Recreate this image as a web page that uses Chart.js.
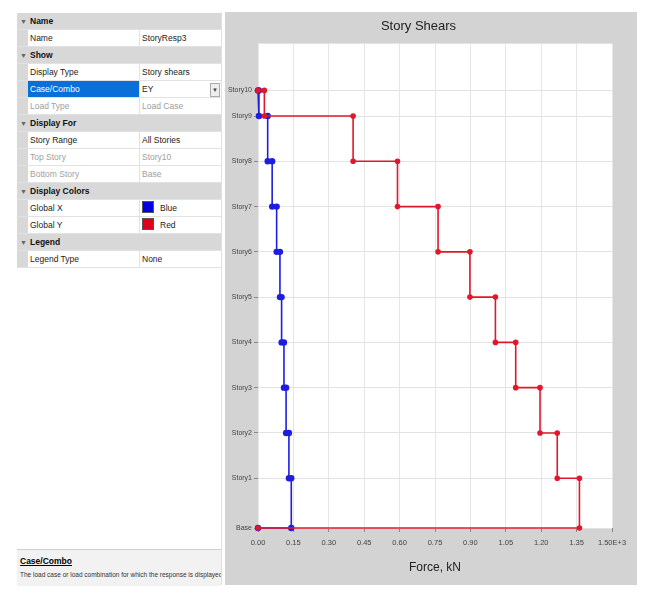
<!DOCTYPE html>
<html>
<head>
<meta charset="utf-8">
<script src="https://cdn.jsdelivr.net/npm/chart.js@4"></script>
<style>
  body { margin: 0; width: 645px; height: 594px; background: #fff; position: relative; overflow: hidden;
         font-family: "Liberation Sans Narrow", "Liberation Sans", Arial, sans-serif; }
  #grid { position: absolute; left: 17px; top: 13px; width: 204px; }
  .row { height: 17px; line-height: 17px; font-size: 8.5px; position: relative; border-bottom: 1px solid #e2e2e2; box-sizing: border-box; }
  .cat { background: #d8d8d8; font-weight: bold; color: #111; }
  .cat .a { position: absolute; left: 3px; font-size: 7px; color: #666; font-weight: normal; }
  .cat .t { position: absolute; left: 13px; }
  .prop { background: #fff; }
  .prop .g { position: absolute; left: 0; top: 0; width: 11px; height: 100%; background: #d8d8d8; }
  .prop .n { position: absolute; left: 11px; top: 0; width: 112px; height: 100%; padding-left: 2px; box-sizing: border-box; border-right: 1px solid #e2e2e2; color: #222; }
  .prop .v { position: absolute; left: 124px; padding-left: 1px; color: #222; }
  .dim .n, .dim .v { color: #a0a0a0; }
  .sel .n { background: #0a6fd8; color: #fff; }
  .sw { display: inline-block; width: 10px; height: 10px; vertical-align: -2px; margin-right: 6px; border: 1px solid #555; }
  .dd { position: absolute; right: 1px; top: 2px; width: 8px; height: 12px; border: 1px solid #aaa; background: #eee; font-size: 6px; line-height: 12px; text-align: center; color: #444; }
  #desc { position: absolute; left: 17px; top: 549px; width: 204px; height: 36px; background: #f2f2f2; border-top: 1px solid #cfcfcf; overflow: hidden; }
  #desc b { position: absolute; left: 3px; top: 6px; font-size: 8.5px; text-decoration: underline; }
  #desc span { position: absolute; left: 3px; top: 21px; font-size: 6.5px; white-space: nowrap; color: #333; }
  #gridEdge { position: absolute; left: 221px; top: 12px; width: 1px; height: 573px; background: #e0e0e0; }
  #panel { position: absolute; left: 225px; top: 12px; width: 412px; height: 573px; background: #d3d3d3; }
</style>
</head>
<body>
<div id="grid">
  <div class="row cat"><span class="a">&#9660;</span><span class="t">Name</span></div>
  <div class="row prop"><div class="g"></div><div class="n">Name</div><div class="v">StoryResp3</div></div>
  <div class="row cat"><span class="a">&#9660;</span><span class="t">Show</span></div>
  <div class="row prop"><div class="g"></div><div class="n">Display Type</div><div class="v">Story shears</div></div>
  <div class="row prop sel"><div class="g"></div><div class="n">Case/Combo</div><div class="v">EY</div><div class="dd">&#9660;</div></div>
  <div class="row prop dim"><div class="g"></div><div class="n">Load Type</div><div class="v">Load Case</div></div>
  <div class="row cat"><span class="a">&#9660;</span><span class="t">Display For</span></div>
  <div class="row prop"><div class="g"></div><div class="n">Story Range</div><div class="v">All Stories</div></div>
  <div class="row prop dim"><div class="g"></div><div class="n">Top Story</div><div class="v">Story10</div></div>
  <div class="row prop dim"><div class="g"></div><div class="n">Bottom Story</div><div class="v">Base</div></div>
  <div class="row cat"><span class="a">&#9660;</span><span class="t">Display Colors</span></div>
  <div class="row prop"><div class="g"></div><div class="n">Global X</div><div class="v"><span class="sw" style="background:#0000e0"></span>Blue</div></div>
  <div class="row prop"><div class="g"></div><div class="n">Global Y</div><div class="v"><span class="sw" style="background:#e0001c"></span>Red</div></div>
  <div class="row cat"><span class="a">&#9660;</span><span class="t">Legend</span></div>
  <div class="row prop"><div class="g"></div><div class="n">Legend Type</div><div class="v">None</div></div>
</div>
<div id="gridEdge"></div>
<div id="desc"><b>Case/Combo</b><span>The load case or load combination for which the response is displayed</span></div>
<div id="panel"><canvas id="shearChart" width="412" height="573"></canvas></div>

<script>
// story levels, bottom to top
const stories = ['Base', 'Story1', 'Story2', 'Story3', 'Story4', 'Story5', 'Story6', 'Story7', 'Story8', 'Story9', 'Story10'];
const elevations = [0, 3.3, 6.3, 9.3, 12.3, 15.3, 18.3, 21.3, 24.3, 27.3, 29.0];

// story shear (kN) for Story1..Story10
const shearX = [141, 131, 119, 110, 100, 93, 79, 60, 41, 4];
const shearY = [1362, 1268, 1195, 1092, 1006, 898, 763, 591, 403, 27];

const xTickValues = [0, 150, 300, 450, 600, 750, 900, 1050, 1200, 1350, 1500];
const xTickLabels = ['0.00', '0.15', '0.30', '0.45', '0.60', '0.75', '0.90', '1.05', '1.20', '1.35', '1.50E+3'];

// step outline: horizontal jump at each floor, vertical run over the story
function stepPoints(shear) {
  const top = stories.length - 1;
  const pts = [{ x: 0, y: elevations[top] }];
  for (let i = top; i >= 1; i--) {
    pts.push({ x: shear[i - 1], y: elevations[i] });
    pts.push({ x: shear[i - 1], y: elevations[i - 1] });
  }
  pts.push({ x: 0, y: 0 });
  return pts;
}

const plotBg = {
  id: 'plotBg',
  beforeDraw(c) {
    const { ctx, chartArea: a } = c;
    ctx.save();
    ctx.fillStyle = '#ffffff';
    ctx.fillRect(a.left, a.top, a.width, a.height);
    ctx.restore();
  }
};

const font = 'Liberation Sans Narrow, Liberation Sans, Arial';

new Chart(document.getElementById('shearChart'), {
  type: 'scatter',
  data: {
    datasets: [{
      label: 'Global Y',
      data: stepPoints(shearY),
      showLine: true,
      borderColor: '#e0182c',
      backgroundColor: '#e0182c',
      borderWidth: 1.6,
      pointRadius: 2,
      clip: false
    }, {
      label: 'Global X',
      data: stepPoints(shearX),
      showLine: true,
      borderColor: '#1e1ee0',
      backgroundColor: '#1e1ee0',
      borderWidth: 1.6,
      pointRadius: 2.4,
      clip: false
    }]
  },
  options: {
    responsive: false,
    animation: false,
    layout: { padding: { right: 25 } },
    plugins: {
      legend: { display: false },
      tooltip: { enabled: false },
      title: {
        display: true,
        text: 'Story Shears',
        color: '#222',
        font: { size: 13, family: font, weight: 'normal' },
        padding: { top: 7, bottom: 9 }
      }
    },
    scales: {
      x: {
        type: 'linear',
        min: 0,
        max: 1500,
        afterBuildTicks: s => { s.ticks = xTickValues.map(v => ({ value: v })); },
        afterFit: s => { s.height = 57; },
        ticks: {
          callback: (v, i) => xTickLabels[i],
          color: '#444',
          font: { size: 7.5, family: font },
          padding: 6,
          maxRotation: 0,
          autoSkip: false
        },
        grid: { color: '#e6e6e6', tickColor: '#888', tickLength: 4 },
        border: { display: false },
        title: {
          display: true,
          text: 'Force, kN',
          color: '#222',
          font: { size: 12, family: font },
          padding: { top: 0, bottom: 10 }
        }
      },
      y: {
        type: 'linear',
        min: 0,
        max: 32.1,
        afterBuildTicks: s => { s.ticks = elevations.map(v => ({ value: v })); },
        afterFit: s => { s.width = 33; },
        ticks: {
          callback: (v, i) => stories[i],
          color: '#444',
          font: { size: 7, family: font },
          padding: 2,
          autoSkip: false
        },
        grid: { color: '#e2e2e2', tickColor: '#888', tickLength: 4 },
        border: { display: false }
      }
    }
  },
  plugins: [plotBg]
});
</script>
</body>
</html>
